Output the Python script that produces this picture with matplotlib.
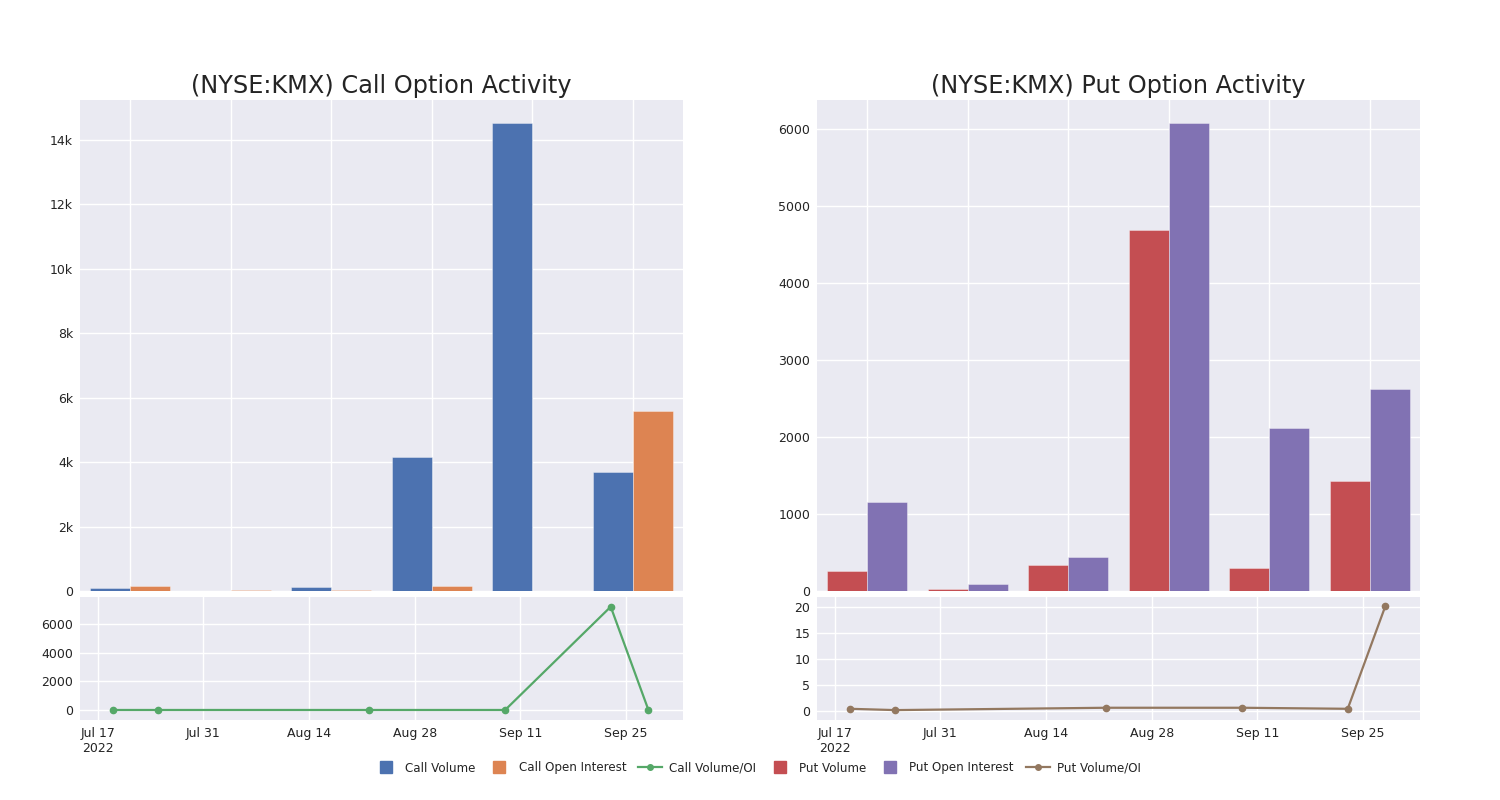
import matplotlib
matplotlib.use('Agg')
import matplotlib.pyplot as plt
from matplotlib.ticker import FuncFormatter
from matplotlib.lines import Line2D
import numpy as np
import pandas as pd

# Données
categories = ['A', 'B', 'C', 'D', 'E', 'F']
call_volume = [104, 10, 125, 4175, 14517, 3707]
call_oi = [156, 30, 40, 165, 2, 5576]
put_volume = [260, 26, 340, 4694, 300, 1434]
put_oi = [1160, 90, 443, 6076, 2112, 2620]

ratio_dates = ['2022-07-19', '2022-07-25', '2022-08-22', '2022-09-09', '2022-09-23', '2022-09-28']
call_ratio = [0, 0, 0, 0, 7210, 0]
put_ratio = [0.45, 0.2, 0.65, 0.65, 0.45, 20.2]

tick_dates = ['2022-07-17', '2022-07-31', '2022-08-14', '2022-08-28', '2022-09-11', '2022-09-25']
tick_labels = ['Jul 17\n2022', 'Jul 31', 'Aug 14', 'Aug 28', 'Sep 11', 'Sep 25']

# Couleurs (template seaborn de plotly)
BG = '#eaeaf2'
TXT = '#242424'
C_BLUE = '#4c72b0'
C_ORANGE = '#dd8452'
C_GREEN = '#55a868'
C_RED = '#c44e52'
C_PURPLE = '#8172b3'
C_BROWN = '#937860'

W, H = 1500, 800
fig = plt.figure(figsize=(15, 8), dpi=100)


def box(x0, y0, x1, y1):
    return [x0 / W, 1 - y1 / H, (x1 - x0) / W, (y1 - y0) / H]


def style(ax):
    ax.set_facecolor(BG)
    for s in ax.spines.values():
        s.set_visible(False)
    ax.grid(True, color='white', linewidth=1)
    ax.set_axisbelow(True)
    ax.tick_params(length=0, labelsize=9, colors=TXT, pad=5)


def bar_panel(x0, vol, oi, c1, c2, title, fmt):
    ax = fig.add_axes(box(x0, 100, x0 + 603, 591))
    style(ax)
    x = np.arange(len(categories))
    ax.bar(x - 0.2, vol, width=0.4, color=c1, edgecolor=(1, 1, 1, 0.5), linewidth=0.5)
    ax.bar(x + 0.2, oi, width=0.4, color=c2, edgecolor=(1, 1, 1, 0.5), linewidth=0.5)
    ax.set_xlim(-0.5, len(categories) - 0.5)
    ax.set_xticks(x)
    ax.set_xticklabels([])
    top = max(max(vol), max(oi)) * 1.05
    ax.set_ylim(0, top)
    ax.yaxis.set_major_formatter(FuncFormatter(fmt))
    ax.set_title(title, fontsize=17.3, color=TXT, pad=5)
    return ax


def line_panel(x0, vals, color, ylim, yticks):
    ax = fig.add_axes(box(x0, 597, x0 + 603, 720))
    style(ax)
    d = pd.to_datetime(ratio_dates)
    ax.plot(d, vals, color=color, linewidth=1.6, marker='o', markersize=4.5)
    ax.set_xlim(pd.Timestamp('2022-07-14 15:00'), pd.Timestamp('2022-10-02 14:00'))
    ax.set_xticks(pd.to_datetime(tick_dates))
    ax.set_xticklabels(tick_labels)
    ax.set_ylim(*ylim)
    ax.set_yticks(yticks)
    return ax


bar_panel(80, call_volume, call_oi, C_BLUE, C_ORANGE, '(NYSE:KMX) Call Option Activity',
          lambda v, p: '0' if v == 0 else f'{int(v / 1000)}k')
bar_panel(817, put_volume, put_oi, C_RED, C_PURPLE, '(NYSE:KMX) Put Option Activity',
          lambda v, p: f'{int(v)}')

line_panel(80, call_ratio, C_GREEN, (-700, 7890), [0, 2000, 4000, 6000])
line_panel(817, put_ratio, C_BROWN, (-1.7, 21.9), [0, 5, 10, 15, 20])

handles = [
    Line2D([], [], linestyle='none', marker='s', markersize=8.5, color=C_BLUE),
    Line2D([], [], linestyle='none', marker='s', markersize=8.5, color=C_ORANGE),
    Line2D([], [], color=C_GREEN, linewidth=1.6, marker='o', markersize=4),
    Line2D([], [], linestyle='none', marker='s', markersize=8.5, color=C_RED),
    Line2D([], [], linestyle='none', marker='s', markersize=8.5, color=C_PURPLE),
    Line2D([], [], color=C_BROWN, linewidth=1.6, marker='o', markersize=4),
]
labels = ['Call Volume', 'Call Open Interest', 'Call Volume/OI',
          'Put Volume', 'Put Open Interest', 'Put Volume/OI']
leg = fig.legend(handles, labels, loc='center', bbox_to_anchor=(0.505, 1 - 768 / H), ncol=6,
                 frameon=False, fontsize=8.6, handlelength=2, columnspacing=1.0, handletextpad=0.6)
for t in leg.get_texts():
    t.set_color(TXT)

fig.savefig('out.png', dpi=100, facecolor='white')
